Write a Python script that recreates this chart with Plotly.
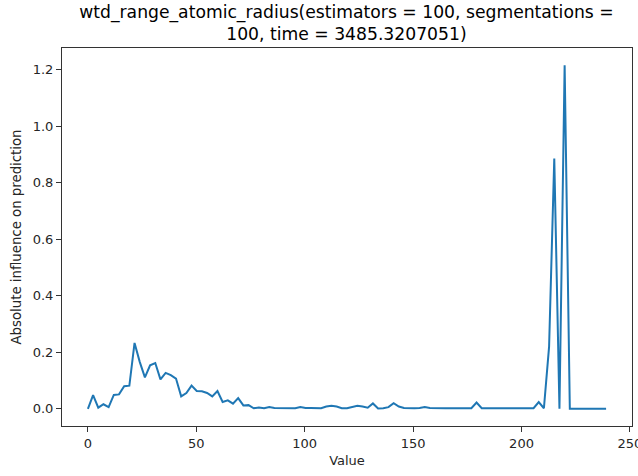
import plotly.graph_objects as go

step = 2.39
n_points = 101
x_values = [round(i * step, 4) for i in range(n_points)]

influence = [
    0.000, 0.048, 0.004, 0.016, 0.006, 0.049, 0.051, 0.080, 0.082, 0.233,
    0.166, 0.111, 0.154, 0.162, 0.104, 0.127, 0.119, 0.107, 0.044, 0.056,
    0.082, 0.063, 0.062, 0.056, 0.044, 0.063, 0.024, 0.030, 0.018, 0.038,
    0.012, 0.013, 0.002, 0.005, 0.002, 0.006, 0.003, 0.003, 0.003, 0.002,
    0.002, 0.006, 0.003, 0.003, 0.002, 0.002, 0.008, 0.011, 0.008, 0.002,
    0.002, 0.006, 0.011, 0.008, 0.004, 0.019, 0.001, 0.002, 0.006, 0.020,
    0.008, 0.003, 0.002, 0.002, 0.003, 0.006, 0.003, 0.002, 0.002, 0.002,
    0.002, 0.002, 0.002, 0.002, 0.002, 0.022, 0.002, 0.002, 0.002, 0.002,
    0.002, 0.002, 0.002, 0.002, 0.002, 0.002, 0.002, 0.024, 0.002, 0.220,
    0.885, 0.000, 1.215, 0.000, 0.000, 0.000, 0.000, 0.000, 0.000, 0.000,
    0.000,
]

title_text = ("wtd_range_atomic_radius(estimators = 100, segmentations =<br>"
              "100, time = 3485.3207051)")
x_ticks = [0, 50, 100, 150, 200, 250]
y_ticks = [0.0, 0.2, 0.4, 0.6, 0.8, 1.0, 1.2]

fig = go.Figure()
fig.add_trace(go.Scatter(
    x=x_values, y=influence, mode="lines",
    line=dict(color="#1f77b4", width=2),
    showlegend=False,
))

font_family = "DejaVu Sans"
fig.update_layout(
    width=638, height=476,
    margin=dict(l=62, r=6, t=48, b=50, autoexpand=False),
    paper_bgcolor="white", plot_bgcolor="white",
    font=dict(family=font_family, size=13, color="#262626"),
    title=dict(
        text=title_text, x=0.543, xanchor="center",
        y=0.963, yref="container", yanchor="top",
        font=dict(family=font_family, size=17.2, color="black"),
    ),
)
axis_common = dict(
    showline=True, mirror=True, linecolor="#333333", linewidth=1,
    showgrid=False, zeroline=False,
    ticks="outside", ticklen=5, tickwidth=1, tickcolor="#333333",
    tickfont=dict(family=font_family, size=13, color="#262626"),
    automargin=False,
)
fig.update_xaxes(
    range=[-11.95, 250.95], tickvals=x_ticks,
    ticklabeloverflow="allow",
    title=dict(text="Value", standoff=6,
               font=dict(family=font_family, size=13, color="#262626")),
    **axis_common,
)
fig.update_yaxes(
    range=[-0.0608, 1.2758], tickvals=y_ticks, tickformat=".1f",
    title=dict(text="Absolute influence on prediction", standoff=8,
               font=dict(family=font_family, size=13.3, color="#262626")),
    **axis_common,
)

fig.write_html("out.html")
